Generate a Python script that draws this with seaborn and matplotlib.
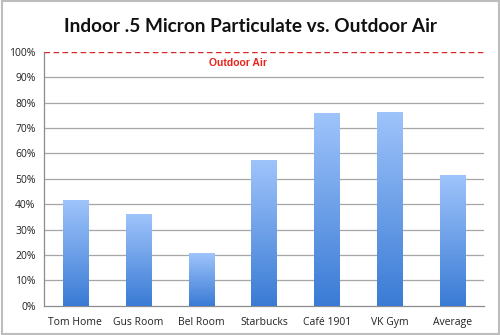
import numpy as np
import pandas as pd
import matplotlib
matplotlib.use("Agg")
import matplotlib.pyplot as plt
import seaborn as sns
from matplotlib.colors import LinearSegmentedColormap
from matplotlib.patches import Rectangle

categories = ["Tom Home", "Gus Room", "Bel Room", "Starbucks", "Café 1901", "VK Gym", "Average"]
values = [0.416, 0.362, 0.207, 0.574, 0.759, 0.765, 0.514]
yticks = [0, 0.1, 0.2, 0.3, 0.4, 0.5, 0.6, 0.7, 0.8, 0.9, 1.0]
ytick_labels = ["0%", "10%", "20%", "30%", "40%", "50%", "60%", "70%", "80%", "90%", "100%"]
outdoor_level = 1.0
title = "Indoor .5 Micron Particulate vs. Outdoor Air"

sns.set_theme(style="white")
plt.rcParams['font.family'] = ['Open Sans', 'DejaVu Sans']

fig = plt.figure(figsize=(5, 3.35), dpi=100)
ax = fig.add_axes([0.088, 0.087, 0.88, 0.758])

df = pd.DataFrame({"cat": categories, "val": values})
sns.barplot(data=df, x="cat", y="val", ax=ax, color="#5b93e0", width=0.4, zorder=3)

ax.set_ylim(0, 1.0)
ax.set_xlim(-0.5, len(categories) - 0.5)

# gradient fill on bars
cmap = LinearSegmentedColormap.from_list("g", ["#3a7bd5", "#9fc4fb"])
grad = np.linspace(0, 1, 256).reshape(-1, 1)
for p in ax.patches:
    x0, y0 = p.get_x(), p.get_y()
    w, h = p.get_width(), p.get_height()
    im = ax.imshow(grad, cmap=cmap, aspect="auto", origin="lower",
                   extent=[x0, x0 + w, y0, y0 + h], zorder=4)
    clip = Rectangle((x0, y0), w, h, transform=ax.transData)
    im.set_clip_path(clip)
    p.set_edgecolor("none")
ax.set_aspect("auto")
ax.set_xlim(-0.5, len(categories) - 0.5)
ax.set_ylim(0, 1.0)

# grid
for yv in yticks[1:-1]:
    ax.axhline(yv, color="#a6a6a6", lw=0.9, zorder=1)

ax.axhline(outdoor_level, color="#d62728", lw=1.0, ls=(0, (4, 2.5)), zorder=5)
ax.text(2.59, 0.955, "Outdoor Air", color="#e8241c", fontsize=7.5, fontweight="bold",
        ha="center", va="center", family=["Liberation Sans", "DejaVu Sans"])

ax.set_yticks(yticks)
ax.set_yticklabels(ytick_labels, fontsize=7.5, color="#222222")
ax.set_xticks(range(len(categories)))
ax.set_xticklabels(categories, fontsize=7.5, color="#222222")
ax.set_xticks(np.arange(-0.5, len(categories), 1.0), minor=True)
ax.tick_params(axis="x", which="major", length=0, pad=8)
ax.tick_params(axis="x", which="minor", length=4, width=0.8, color="#8c8c8c", direction="out")
ax.tick_params(axis="y", length=3, width=0.8, color="#8c8c8c", direction="out", pad=3)
ax.set_xlabel("")
ax.set_ylabel("")

for s in ["top", "right"]:
    ax.spines[s].set_visible(False)
for s in ["left", "bottom"]:
    ax.spines[s].set_color("#8c8c8c")
    ax.spines[s].set_linewidth(0.9)

fig.text(0.5, 0.922, title, ha="center", va="center", fontsize=13.7, fontweight="bold",
         color="#111111", family=["Lato", "DejaVu Sans"])

# figure border
fig.patches.append(Rectangle((0.003, 0.004), 0.994, 0.992, transform=fig.transFigure,
                             fill=False, edgecolor="#bdbdbd", lw=1.5))

fig.savefig("out.png", dpi=100)
